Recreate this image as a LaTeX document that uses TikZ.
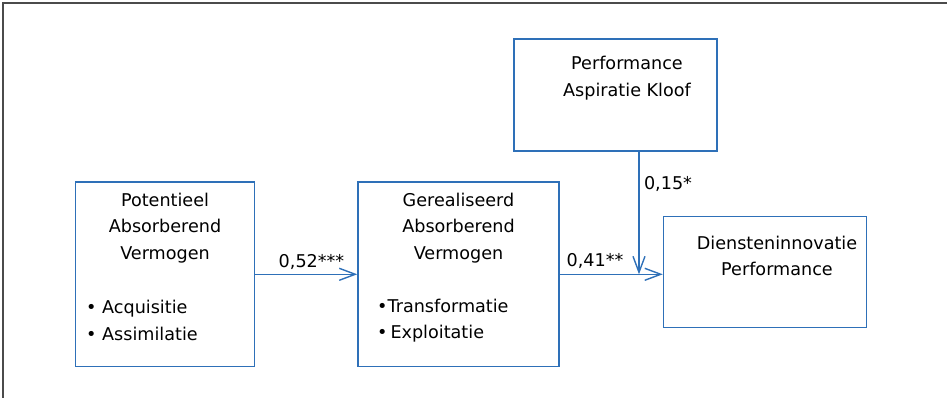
\documentclass[tikz,border=0pt]{standalone}
\usepackage{fontspec}
\setmainfont{DejaVu Sans}
\usetikzlibrary{arrows.meta}
\definecolor{boxblue}{RGB}{46,112,184}
\definecolor{framegray}{RGB}{75,75,75}
\tikzset{
  box/.style={draw=boxblue,line width=1.5pt,inner sep=0pt},
  txt/.style={font=\fontsize{17.6}{26.7}\selectfont,inner sep=0pt},
  lbl/.style={font=\fontsize{17.6}{20}\selectfont,inner sep=0pt},
  pijl/.style={draw=boxblue,line width=1.4pt,-{Straight Barb[length=16pt,width=12pt]}}
}
\begin{document}
\begin{tikzpicture}[x=1pt,y=-1pt]
        \useasboundingbox (0,0) rectangle (947,398);
        \draw[framegray,line width=2.5pt] (3,398) -- (3,3) -- (947,3);
        \node[box,minimum width=179pt,minimum height=184.5pt] (pot) at (165,274.3) {};
        \node[box,minimum width=201pt,minimum height=184.5pt] (ger) at (458.5,274.3) {};
        \node[box,minimum width=203pt,minimum height=112pt] (kloof) at (615.5,95) {};
        \node[box,minimum width=203pt,minimum height=111pt] (dienst) at (765,272.2) {};
        \node[txt,align=center] (potT) at (165,228) {Potentieel\\Absorberend\\Vermogen};
        \node[txt,align=left,anchor=west] (potB) at (86,320.5) {• Acquisitie\\• Assimilatie};
        \node[txt,align=center] (gerT) at (458.5,228) {Gerealiseerd\\Absorberend\\Vermogen};
        \node[txt,align=left,anchor=west] (gerB) at (377,320.5) {•Transformatie\\•\,Exploitatie};
        \node[txt,align=center] (kloofT) at (627,78) {Performance\\Aspiratie Kloof};
        \node[txt,align=center] (dienstT) at (777,256) {Diensteninnovatie\\Performance};
        \coordinate (kv) at (639,151);
        \draw[pijl] (pot.east) -- (ger.west);
        \draw[pijl] (ger.east) -- (ger.east -| dienst.west);
        \draw[pijl] (kv) -- (kv |- ger.east);
        \node[lbl] (b1) at (311.5,262) {0,52***};
        \node[lbl] (b2) at (595,261) {0,41**};
        \node[lbl] (b3) at (668,183.5) {0,15*};
    \end{tikzpicture}
\end{document}
